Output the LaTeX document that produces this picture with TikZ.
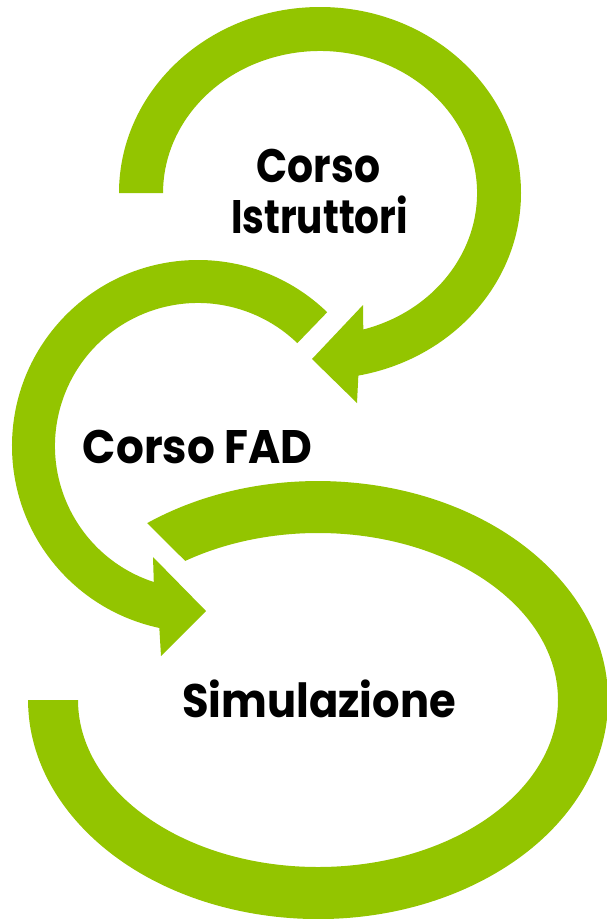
\documentclass[tikz,border=0pt]{standalone}
\usepackage{fontspec}
\setmainfont{Poppins}
\definecolor{lime}{RGB}{147,197,0}
\newcommand{\sqz}[2]{\scalebox{#1}[1]{#2}}
\begin{document}
\begin{tikzpicture}[x=1pt,y=-1pt,
  band/.style={fill=lime,draw=none},
  lbl/.style={font=\fontsize{47}{50}\selectfont\bfseries,inner sep=0pt,anchor=base}]
\useasboundingbox (0,0) rectangle (607,919);
% arrow 1 (top)
\path[band] (119,193) arc[start angle=-180,end angle=79,x radius=201,y radius=186]
  -- (357,403) -- (312,359) -- (363,305)
  -- (363.3,329.5) arc[start angle=74,end angle=-180,x radius=157,y radius=142] -- cycle;
% arrow 2 (middle)
\path[band] (327.2,312.2) arc[start angle=-46,end angle=-258,radius=186]
  -- (161,656) -- (206,611) -- (153,557)
  -- (153.8,582) arc[start angle=-252,end angle=-46,radius=143] -- cycle;
% arrow 3 (bottom)
\path[band] (147.2,523.1) arc[start angle=-126.1,end angle=180,x radius=290,y radius=219]
  -- (78,700) arc[start angle=180,end angle=-123.6,x radius=240,y radius=167] -- cycle;
\node[lbl] (ci1) at (318.5,182) {\sqz{0.87}{Corso}};
\node[lbl] (ci2) at (319.5,233) {\sqz{0.83}{Istruttori}};
\node[lbl] (fad) at (197.5,463) {\sqz{0.93}{Corso FAD}};
\node[lbl] (sim) at (319,717) {\sqz{0.92}{Simulazione}};
\end{tikzpicture}
\end{document}
